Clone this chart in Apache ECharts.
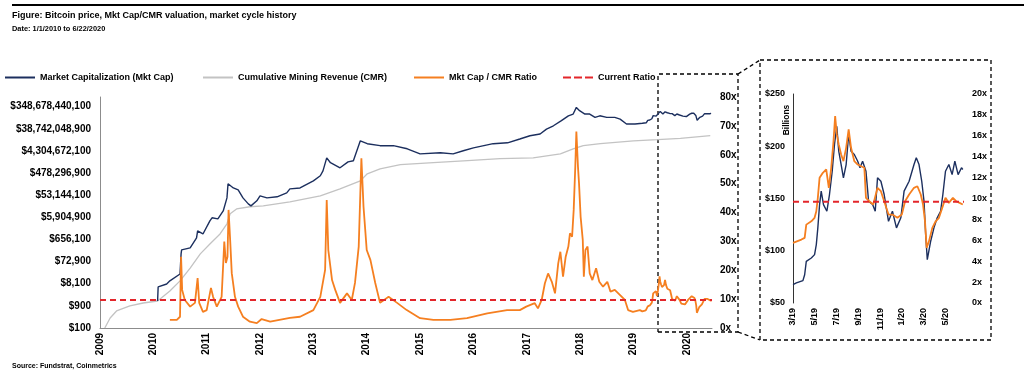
<!DOCTYPE html>
<html><head><meta charset="utf-8">
<script src="https://cdn.jsdelivr.net/npm/echarts@6/dist/echarts.min.js"></script>
<style>html,body{margin:0;padding:0;background:#fff}#c{width:1024px;height:378px}</style>
</head><body><div id="c"></div>
<script>
// ---------------- data ----------------
const seriesNames = ['Market Capitalization (Mkt Cap)', 'Cumulative Mining Revenue (CMR)', 'Mkt Cap / CMR Ratio', 'Current Ratio'];

// Market cap, USD (decimal year)
const mcEarlyYears = [2010.08, 2010.09, 2010.25, 2010.31, 2010.50, 2010.52, 2010.53, 2010.69, 2010.81, 2010.83,
  2010.93, 2011.06, 2011.10, 2011.21, 2011.31, 2011.38, 2011.40, 2011.50, 2011.59, 2011.68,
  2011.78, 2011.83, 2011.94, 2012.00, 2012.13, 2012.32, 2012.50, 2012.56, 2012.75, 2013.00,
  2013.13, 2013.18, 2013.25, 2013.32, 2013.50, 2013.65, 2013.75, 2013.88, 2014.01, 2014.25,
  2014.50, 2014.76, 2015.00, 2015.38, 2015.62, 2015.81, 2016.00, 2016.37, 2016.64, 2016.87,
  2017.06, 2017.25, 2017.37, 2017.50, 2017.65, 2017.78, 2017.87, 2017.93, 2017.99, 2018.09,
  2018.18, 2018.28, 2018.37, 2018.50, 2018.65, 2018.75, 2018.87, 2019.03];
const mcEarlyValues = [1.46e3, 5.89e3, 7.92e3, 1.078e4, 2.13e4, 1.573e5, 2.335e5, 2.846e5, 7.65e5, 1.546e6,
  1.137e6, 4.156e6, 5.654e6, 5.065e6, 1.117e7, 4.08e7, 1.665e8, 1.096e8, 9.0e7, 4.08e7,
  2.25e7, 1.85e7, 3.07e7, 4.97e7, 4.08e7, 4.55e7, 6.76e7, 1.004e8, 1.096e8, 2.214e8,
  3.67e8, 5.96e8, 2.18e9, 1.344e9, 8.11e8, 1.468e9, 1.639e9, 1.183e10, 8.89e9, 7.296e9,
  7.296e9, 5.362e9, 3.236e9, 3.613e9, 3.236e9, 4.404e9, 5.855e9, 8.89e9, 9.71e9, 1.411e10,
  1.961e10, 2.337e10, 3.79e10, 5.27e10, 8.74e10, 1.417e11, 1.688e11, 3.267e11, 2.35e11, 1.688e11,
  1.688e11, 1.215e11, 1.417e11, 1.215e11, 1.215e11, 1.02e11, 6.28e10, 6.28e10];

// Cumulative mining revenue, USD
const cmrYears = [2009.09, 2009.19, 2009.31, 2009.56, 2009.81, 2010.08, 2010.31, 2010.50, 2010.69, 2010.88,
  2011.06, 2011.25, 2011.38, 2011.44, 2011.56, 2011.81, 2012.06, 2012.56, 2013.13, 2013.50,
  2013.88, 2014.01, 2014.25, 2014.63, 2015.25, 2015.89, 2016.50, 2017.12, 2017.63, 2017.87,
  2018.06, 2018.38, 2019.00, 2019.45, 2019.88, 2020.44];
const cmrValues = [100, 269, 543, 900, 1198, 1460, 3920, 10780, 38500, 157300,
  422500, 1137000, 3125000, 8.4e6, 1.36e7, 1.696e7, 1.85e7, 2.75e7, 4.97e7, 1.004e8,
  2.214e8, 4.48e8, 7.27e8, 1.103e9, 1.344e9, 1.639e9, 1.998e9, 2.18e9, 3.236e9, 5.362e9,
  7.296e9, 8.89e9, 1.183e10, 1.321e10, 1.507e10, 1.961e10];

// Mkt Cap / CMR ratio (x)
const ratioEarlyYears = [2010.31, 2010.44, 2010.50, 2010.52, 2010.54, 2010.59, 2010.69, 2010.78, 2010.83, 2010.86,
  2010.93, 2011.00, 2011.08, 2011.12, 2011.19, 2011.28, 2011.33, 2011.36, 2011.39, 2011.41,
  2011.44, 2011.47, 2011.53, 2011.59, 2011.68, 2011.81, 2011.94, 2012.03, 2012.19, 2012.56,
  2012.75, 2013.00, 2013.13, 2013.22, 2013.25, 2013.28, 2013.35, 2013.41, 2013.50, 2013.63,
  2013.72, 2013.78, 2013.85, 2013.90, 2013.94, 2014.00, 2014.07, 2014.16, 2014.25, 2014.41,
  2014.57, 2014.75, 2015.00, 2015.25, 2015.57, 2015.88, 2016.26, 2016.63, 2016.87, 2016.99,
  2017.15, 2017.21, 2017.28, 2017.34, 2017.40, 2017.47, 2017.53, 2017.59, 2017.63, 2017.68,
  2017.73, 2017.78, 2017.81, 2017.85, 2017.88, 2017.91, 2017.93, 2017.96, 2017.98, 2018.01,
  2018.05, 2018.07, 2018.10, 2018.14, 2018.18, 2018.23, 2018.30, 2018.36, 2018.43, 2018.51,
  2018.57, 2018.65, 2018.75, 2018.84, 2018.90, 2018.99, 2019.12];
const ratioEarlyValues = [2.8, 2.8, 3.9, 24.7, 13.2, 9.7, 7.4, 8.7, 17.3, 8.7,
  5.6, 6.2, 13.9, 10.8, 7.4, 10.8, 29.9, 22.5, 24.7, 40.9,
  30.5, 19.0, 10.8, 7.4, 3.9, 2.2, 1.7, 3.1, 2.2, 3.5,
  3.9, 6.2, 10.8, 20.1, 44.3, 27, 16.6, 13.2, 8.7, 12.0,
  9.7, 15.6, 28.2, 58.8, 42.0, 27.0, 23.5, 15.6, 8.7, 10.8,
  8.7, 6.2, 3.4, 2.8, 2.8, 3.4, 5.1, 6.2, 6.2, 7.4,
  8.6, 6.8, 9.7, 15.5, 18.9, 16.0, 12.0, 22.4, 26.4, 17.8,
  24.7, 28.2, 32.8, 31.6, 40.9, 55.9, 68.0, 55.9, 50.1, 38.5,
  30.5, 17.8, 27.0, 28.2, 18.9, 16.6, 20.7, 16.0, 14.3, 16.0,
  12.6, 13.2, 11.4, 9.7, 6.2, 5.6, 6.2];

// Recent period (months since Jan 2019) - used by inset and main chart
const recentMcMonths = [2, 2.31, 2.91, 3.07, 3.22, 3.68, 3.98, 4.14, 4.28, 4.44,
  4.59, 4.80, 5.11, 5.35, 5.60, 5.81, 6.02, 6.20, 6.42, 6.63,
  6.88, 7.11, 7.33, 7.63, 7.94, 8.15, 8.39, 8.70, 8.94, 9.31,
  9.55, 9.76, 10.07, 10.37, 10.77, 11.13, 11.50, 11.90, 12.20, 12.66,
  13.11, 13.32, 13.57, 13.82, 14.03, 14.18, 14.33, 14.64, 14.94, 15.24,
  15.55, 15.76, 16.0, 16.31, 16.61, 16.86, 17.16, 17.47, 17.59];
const recentMcBillions = [67.5, 69.2, 71.4, 77, 89.9, 93.1, 96.3, 105.9, 121.9, 144.2,
  157, 144.2, 137.8, 153.8, 176.1, 201.7, 219.2, 195.3, 182.5, 169.8,
  182.5, 211.3, 195.3, 192.1, 185.7, 179.4, 185.7, 176.1, 147.4, 144.2,
  137.8, 169.8, 166.5, 153.8, 128.2, 137.8, 121.9, 131.5, 157, 166.5,
  182.5, 189, 182.5, 166.5, 147.4, 115.5, 91.5, 109.1, 121.9, 131.5,
  137.8, 153.8, 176.1, 182.5, 172.9, 185.7, 172.9, 179.4, 177.8];
const recentRatioMonths = [2, 2.77, 3.07, 3.22, 3.68, 3.98, 4.14, 4.28, 4.44, 4.74,
  5.05, 5.29, 5.51, 5.72, 5.87, 6.02, 6.20, 6.42, 6.63, 6.88,
  7.11, 7.33, 7.63, 7.94, 8.25, 8.55, 8.70, 9.0, 9.37, 9.76,
  10.07, 10.37, 10.77, 11.13, 11.59, 11.99, 12.29, 12.66, 13.11, 13.42,
  13.73, 13.94, 14.12, 14.27, 14.48, 14.79, 15.10, 15.40, 15.70, 16.0,
  16.31, 16.68, 16.98, 17.29, 17.59];
const recentRatioValues = [5.75, 6.07, 6.23, 7.5, 7.82, 8.15, 8.78, 10.06, 11.98, 12.46,
  12.78, 11.02, 12.94, 15.49, 17.88, 16.13, 15.17, 14.21, 13.57, 14.85,
  16.61, 14.85, 13.57, 13.25, 13.09, 12.94, 10.06, 9.74, 9.42, 11.02,
  10.70, 9.74, 8.46, 8.46, 8.15, 8.46, 9.74, 10.38, 11.02, 11.17,
  10.38, 9.42, 7.82, 5.27, 5.90, 7.19, 7.82, 8.15, 9.10, 10.06,
  9.58, 10.06, 9.74, 9.58, 9.42];

const currentRatio = 9.7;
const mainStart = 2009, mainEnd = 2020 + 173 / 366;   // 6/22/2020
const insetStartMonth = 2, insetEndMonth = 17 + 21 / 30;

// ---------------- build ----------------
const FONT = "'Liberation Sans', Arial, sans-serif";
const NAVY = '#1c2f5e', GRAY = '#c3c3c3', ORANGE = '#f57f20', RED = '#e3262b';
// Left axis: log scale with base 9 starting at $100 (ticks $100, $900, $8,100 ...)
const LOG_BASE = 9, LOG_START = 100;
const toLog = v => Math.log(v / LOG_START) / Math.log(LOG_BASE);

const mcMain = mcEarlyYears.map((y, i) => [y, toLog(mcEarlyValues[i])])
  .concat(recentMcMonths.map((m, i) => [2019 + m / 12, toLog(recentMcBillions[i] * 1e9)]));
const cmrMain = cmrYears.map((y, i) => [y, toLog(cmrValues[i])]);
const ratioMain = ratioEarlyYears.map((y, i) => [y, ratioEarlyValues[i]])
  .concat(recentRatioMonths.map((m, i) => [2019 + m / 12, recentRatioValues[i]]));
const mcInset = recentMcMonths.map((m, i) => [m, recentMcBillions[i]]);
const ratioInset = recentRatioMonths.map((m, i) => [m, recentRatioValues[i]]);

const lbl = (size) => ({ fontFamily: FONT, fontWeight: 'bold', fontSize: size, color: '#000' });
const isInt = v => Math.abs(v - Math.round(v)) < 1e-6;

const icons = [
  'path://M0 0H30V2H0Z', 'path://M0 0H30V2H0Z', 'path://M0 0H30V2H0Z',
  'path://M0 0H8V2H0Z M11 0H19V2H11Z M22 0H30V2H22Z'
];
const legendLeft = [5, 203, 414, 563];

const chart = echarts.init(document.getElementById('c'), null, { renderer: 'canvas' });
const line = (name, data, color, x, y, width, extra) => Object.assign({
  type: 'line', name, data, xAxisIndex: x, yAxisIndex: y, showSymbol: false, symbol: 'none',
  lineStyle: { color, width }, itemStyle: { color }, silent: true, animation: false
}, extra || {});
const dashed = { lineStyle: { color: RED, width: 2, type: [6, 4] } };

chart.setOption({
  animation: false,
  legend: seriesNames.map((n, i) => ({
    data: [{ name: n, icon: icons[i] }], left: legendLeft[i], top: 73, padding: 0,
    itemWidth: 30, itemHeight: 2, selectedMode: false, itemStyle: { borderWidth: 0 },
    textStyle: lbl(9)
  })),
  grid: [
    { left: 100, top: 97, width: 612, height: 231 },
    { left: 793, top: 94, width: 171, height: 209 }
  ],
  xAxis: [
    { type: 'value', gridIndex: 0, min: mainStart, max: mainEnd, interval: 1,
      axisLine: { show: true, lineStyle: { color: '#8c8c8c', width: 1 } }, axisTick: { show: false },
      splitLine: { show: false },
      axisLabel: Object.assign(lbl(10), { rotate: 90, margin: 5, showMaxLabel: false,
        formatter: v => isInt(v) ? String(Math.round(v)) : '' }) },
    { type: 'value', gridIndex: 1, min: insetStartMonth, max: insetEndMonth, interval: 2,
      axisLine: { show: false }, axisTick: { show: false }, splitLine: { show: false },
      axisLabel: Object.assign(lbl(9), { rotate: 90, margin: 5, showMaxLabel: false,
        formatter: v => isInt(v) ? ((Math.round(v) % 12) + 1) + '/' + (19 + Math.floor(Math.round(v) / 12)) : '' }) }
  ],
  yAxis: [
    { type: 'value', gridIndex: 0, min: 0, max: 10.44, interval: 1, position: 'left',
      axisLine: { show: true, lineStyle: { color: '#8c8c8c', width: 1 } }, axisTick: { show: false },
      splitLine: { show: false },
      axisLabel: Object.assign(lbl(10), { margin: 9, showMaxLabel: false, interval: 0,
        formatter: k => isInt(k) ? '$' + Math.round(LOG_START * Math.pow(LOG_BASE, Math.round(k))).toLocaleString('en-US') : '' }) },
    { type: 'value', gridIndex: 0, min: 0, max: 80, interval: 10, position: 'right',
      axisLine: { show: false }, axisTick: { show: false }, splitLine: { show: false },
      axisLabel: Object.assign(lbl(10), { margin: 8, formatter: '{value}x' }) },
    { type: 'value', gridIndex: 1, min: 50, max: 250, interval: 50, position: 'left',
      axisLine: { show: true, lineStyle: { color: '#333', width: 1 } }, axisTick: { show: false },
      splitLine: { show: false },
      axisLabel: Object.assign(lbl(9), { margin: 8, formatter: '${value}' }) },
    { type: 'value', gridIndex: 1, min: 0, max: 20, interval: 2, position: 'right',
      axisLine: { show: false }, axisTick: { show: false }, splitLine: { show: false },
      axisLabel: Object.assign(lbl(9), { margin: 8, formatter: '{value}x' }) }
  ],
  series: [
    line(seriesNames[1], cmrMain, GRAY, 0, 0, 1.3),
    line(seriesNames[0], mcMain, NAVY, 0, 0, 1.4),
    line(seriesNames[2], ratioMain, ORANGE, 0, 1, 1.8),
    line(seriesNames[3], [[mainStart, currentRatio], [mainEnd, currentRatio]], RED, 0, 1, 2, dashed),
    line(seriesNames[0], mcInset, NAVY, 1, 2, 1.4),
    line(seriesNames[2], ratioInset, ORANGE, 1, 3, 1.8),
    line(seriesNames[3], [[insetStartMonth, currentRatio], [insetEndMonth, currentRatio]], RED, 1, 3, 2, dashed)
  ],
  graphic: [
    { type: 'rect', shape: { x: 12, y: 4, width: 1012, height: 2 }, style: { fill: '#000' }, silent: true },
    { type: 'text', x: 12, y: 16, style: { text: 'Figure: Bitcoin price, Mkt Cap/CMR valuation, market cycle history', font: "bold 9px " + FONT, fill: '#000', textVerticalAlign: 'middle' } },
    { type: 'text', x: 12, y: 29, style: { text: 'Date: 1/1/2010 to 6/22/2020', font: "bold 7.4px " + FONT, fill: '#000', textVerticalAlign: 'middle' } },
    { type: 'text', x: 12, y: 366, style: { text: 'Source: Fundstrat, Coinmetrics', font: "bold 7px " + FONT, fill: '#000', textVerticalAlign: 'middle' } },
    { type: 'text', x: 787, y: 120, rotation: Math.PI / 2, style: { text: 'Billions', font: "bold 8.5px " + FONT, fill: '#000', textAlign: 'center', textVerticalAlign: 'middle' } },
    { type: 'polyline', shape: { points: [[658, 332], [658, 74], [738, 74], [738, 332], [658, 332]] }, style: { stroke: '#000', lineWidth: 1.3, lineDash: [4, 3], fill: null } },
    { type: 'polyline', shape: { points: [[738, 74], [760, 60]] }, style: { stroke: '#000', lineWidth: 1.3, lineDash: [4, 3], fill: null } },
    { type: 'polyline', shape: { points: [[738, 332], [760, 340]] }, style: { stroke: '#000', lineWidth: 1.3, lineDash: [4, 3], fill: null } },
    { type: 'polyline', shape: { points: [[760, 60], [991, 60], [991, 340], [760, 340], [760, 60]] }, style: { stroke: '#000', lineWidth: 1.3, lineDash: [4, 3], fill: null } }
  ]
});
</script></body></html>
